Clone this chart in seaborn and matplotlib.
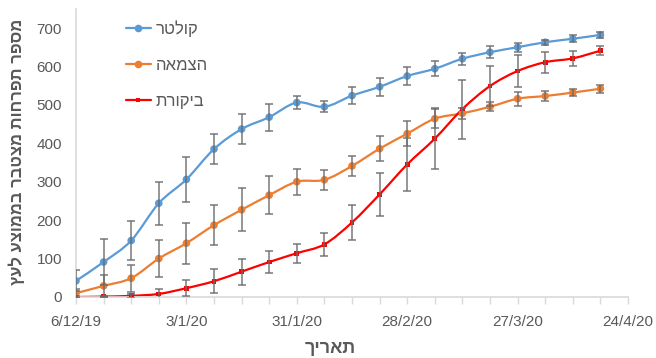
import numpy as np
import pandas as pd
import matplotlib
matplotlib.use("Agg")
import matplotlib.pyplot as plt
import matplotlib.dates as mdates
from matplotlib.path import Path
from matplotlib.patches import PathPatch
from matplotlib.lines import Line2D
import seaborn as sns

# Weekly sampling dates
dates = pd.date_range("2019-12-06", periods=20, freq="7D")

# Cumulative inflorescences per tree (mean) and error half-widths
kolter = [42, 91, 147, 244, 306, 385, 437, 468, 506, 495, 524, 547, 575, 594, 620, 637, 650, 663, 672, 682]
kolter_err = [27, 59, 51, 56, 58, 38, 38, 35, 16, 14, 22, 24, 23, 19, 15, 16, 12, 7, 9, 7]

hatzmaa = [10, 29, 49, 100, 140, 187, 227, 265, 300, 305, 341, 386, 425, 464, 478, 495, 516, 523, 532, 542]
hatzmaa_err = [12, 28, 35, 49, 53, 52, 56, 49, 34, 26, 26, 32, 32, 25, 15, 12, 18, 14, 8, 10]

bikoret = [0, 1, 3, 8, 23, 41, 66, 91, 114, 137, 194, 267, 345, 412, 489, 549, 588, 611, 621, 641]
bikoret_err = [2, 2, 5, 14, 21, 31, 34, 28, 25, 30, 45, 56, 69, 79, 77, 53, 41, 27, 20, 12]

series_names = ["קולטר", "הצמאה", "ביקורת"]
xtick_dates = ["2019-12-06", "2020-01-03", "2020-01-31", "2020-02-28", "2020-03-27", "2020-04-24"]
xtick_labels = ["6/12/19", "3/1/20", "31/1/20", "28/2/20", "27/3/20", "24/4/20"]
ytick_values = [0, 100, 200, 300, 400, 500, 600, 700]
x_title = "תאריך"
y_title = "מספר תפרחות מצטבר בממוצע לעץ"

colors = ["#5B9BD5", "#ED7D31", "#FF0000"]
markers = ["o", "o", "s"]
msizes = [30, 30, 12]

sns.set_theme(style="white")
plt.rcParams["font.family"] = ["Liberation Sans", "DejaVu Sans"]

TEXT = "#595959"
AXIS = "#d9d9d9"


def rtl(s):
    # matplotlib lays text out left-to-right; reverse Hebrew for display
    return s[::-1]


def smooth_path(x, y):
    pts = np.column_stack([x, y]).astype(float)
    n = len(pts)
    verts = [pts[0]]
    codes = [Path.MOVETO]
    for i in range(n - 1):
        p0 = pts[i - 1] if i > 0 else pts[i]
        p1 = pts[i]
        p2 = pts[i + 1]
        p3 = pts[i + 2] if i + 2 < n else pts[i + 1]
        c1 = p1 + (p2 - p0) / 6.0
        c2 = p2 - (p3 - p1) / 6.0
        verts += [c1, c2, p2]
        codes += [Path.CURVE4] * 3
    return Path(verts, codes)


fig = plt.figure(figsize=(6.56, 3.58), dpi=100)
ax = fig.add_axes([76 / 656, 1 - 297 / 358, 552 / 656, (297 - 8.8) / 358])

xnum = mdates.date2num(dates.to_pydatetime())
all_vals = [kolter, hatzmaa, bikoret]
all_errs = [kolter_err, hatzmaa_err, bikoret_err]

for vals, errs, c, m, s, name in zip(all_vals, all_errs, colors, markers, msizes, series_names):
    patch = PathPatch(smooth_path(xnum, vals), facecolor="none", edgecolor=c,
                      lw=1.6, zorder=2, transform=ax.transData)
    ax.add_patch(patch)
    df = pd.DataFrame({"date": dates, "value": vals})
    sns.scatterplot(data=df, x="date", y="value", color=c, marker=m, s=s,
                    edgecolor="none", linewidth=0, zorder=3, ax=ax, legend=False)

for vals, errs in zip(all_vals, all_errs):
    ax.errorbar(dates, vals, yerr=errs, fmt="none", ecolor="#6b6b6b",
                elinewidth=1.1, capsize=3, capthick=1.1, zorder=4, alpha=0.9)

ax.set_xlim(mdates.date2num(pd.Timestamp("2019-12-06")), mdates.date2num(pd.Timestamp("2020-04-24")))
ax.set_ylim(0, 750)

ax.set_xticks([mdates.date2num(pd.Timestamp(d)) for d in xtick_dates])
ax.set_xticklabels(xtick_labels)
ax.set_xticks(mdates.date2num(pd.date_range("2019-12-06", "2020-04-24", freq="7D").to_pydatetime()), minor=True)
ax.set_yticks(ytick_values)
ax.set_yticklabels([str(v) for v in ytick_values])

ax.tick_params(axis="x", which="both", direction="out", length=5, width=1, color=AXIS,
               labelsize=11, labelcolor=TEXT, pad=8, bottom=True)
ax.tick_params(axis="y", length=0, labelsize=11, labelcolor=TEXT, pad=10)

for side in ["top", "right"]:
    ax.spines[side].set_visible(False)
for side in ["left", "bottom"]:
    ax.spines[side].set_color(AXIS)
    ax.spines[side].set_linewidth(1.2)
ax.set_xlabel("")
ax.set_ylabel("")

handles = [Line2D([], [], color=c, lw=1.6, marker=m, markersize=ms, markeredgewidth=0)
           for c, m, ms in zip(colors, markers, [5.5, 5.5, 3.5])]
ax.legend(handles, [rtl(n) for n in series_names], loc="upper left",
          bbox_to_anchor=(119 / 656, 1 - 14 / 358), bbox_transform=fig.transFigure,
          frameon=False, fontsize=12, labelcolor=TEXT, handlelength=1.5,
          handletextpad=0.3, labelspacing=1.25, borderaxespad=0)

fig.text(330 / 656, 1 - 348 / 358, rtl(x_title), fontsize=13, fontweight="bold",
         color=TEXT, ha="center", va="center")
fig.text(17 / 656, 1 - 152 / 358, rtl(y_title), fontsize=12, fontweight="bold",
         color=TEXT, ha="center", va="center", rotation=90)

fig.savefig("out.png", dpi=100)
